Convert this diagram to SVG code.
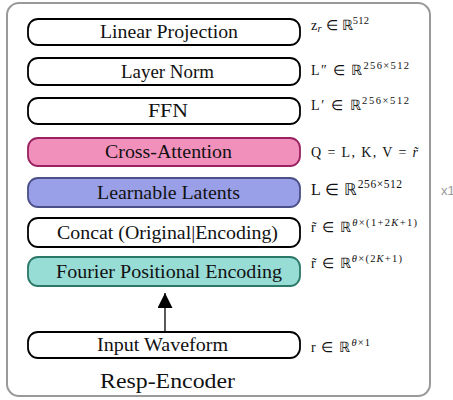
<svg xmlns="http://www.w3.org/2000/svg" width="453" height="400" viewBox="0 0 453 400">
<defs>
<style>
.box{stroke-width:1.8}
.lbl{font-family:"Liberation Serif","Times New Roman",serif;font-size:18px;fill:#111;text-anchor:middle}
.m{font-family:"Liberation Serif","Times New Roman",serif;font-size:14px;fill:#111}
.sup{font-size:10.5px}
</style>
<marker id="ah" markerWidth="16" markerHeight="16" refX="15" refY="7.5" orient="auto" markerUnits="userSpaceOnUse" viewBox="0 0 16 16">
<path d="M0,0 L15,7.5 L0,15 Z" fill="#000"/>
</marker>
</defs>
<rect x="7" y="3" width="423" height="393" rx="12" fill="#fff" stroke="#999" stroke-width="2"/>
<g id="n-linear"><rect class="box" x="28" y="19" width="272" height="26" rx="10" fill="#fff" stroke="#000"/><text class="lbl" x="169" y="38" textLength="138" lengthAdjust="spacingAndGlyphs">Linear Projection</text></g>
<g id="n-layernorm"><rect class="box" x="28" y="58" width="272" height="27" rx="10" fill="#fff" stroke="#000"/><text class="lbl" x="167.5" y="77.5" textLength="93" lengthAdjust="spacingAndGlyphs">Layer Norm</text></g>
<g id="n-ffn"><rect class="box" x="28" y="98" width="272" height="26" rx="10" fill="#fff" stroke="#000"/><text class="lbl" x="168" y="117" textLength="40" lengthAdjust="spacingAndGlyphs">FFN</text></g>
<g id="n-cross"><rect class="box" x="28" y="138" width="272" height="28" rx="10" fill="#f190bb" stroke="#9a2262"/><text class="lbl" x="168.5" y="158" textLength="127" lengthAdjust="spacingAndGlyphs">Cross-Attention</text></g>
<g id="n-latents"><rect class="box" x="28" y="178" width="272" height="29" rx="10" fill="#9aa0e8" stroke="#4b5088"/><text class="lbl" x="168.5" y="198.5" textLength="143" lengthAdjust="spacingAndGlyphs">Learnable Latents</text></g>
<g id="n-concat"><rect class="box" x="28" y="218" width="272" height="29" rx="10" fill="#fff" stroke="#000"/><text class="lbl" x="167.5" y="238.5" textLength="221" lengthAdjust="spacingAndGlyphs">Concat (Original|Encoding)</text></g>
<g id="n-fourier"><rect class="box" x="28" y="257" width="272" height="29" rx="10" fill="#98dcd6" stroke="#2b7868"/><text class="lbl" x="169" y="277.5" textLength="226" lengthAdjust="spacingAndGlyphs">Fourier Positional Encoding</text></g>
<g id="n-input"><rect class="box" x="28" y="332" width="272" height="26" rx="10" fill="#fff" stroke="#000"/><text class="lbl" x="162.5" y="351" textLength="131" lengthAdjust="spacingAndGlyphs">Input Waveform</text></g>
<g id="connectors"><line x1="165" y1="332" x2="165" y2="293" stroke="#000" stroke-width="1.3" marker-end="url(#ah)"/></g>
<g id="annotations">
<text class="m" x="311" y="30" textLength="58" lengthAdjust="spacing">z<tspan class="sup" font-style="italic" dy="2">r</tspan><tspan dy="-2"> ∈ ℝ</tspan><tspan class="sup" dy="-6">512</tspan></text>
<text class="m" x="311" y="75" textLength="98" lengthAdjust="spacing">L″ ∈ ℝ<tspan class="sup" dy="-6">256×512</tspan></text>
<text class="m" x="311" y="110" textLength="98" lengthAdjust="spacing">L′ ∈ ℝ<tspan class="sup" dy="-6">256×512</tspan></text>
<text class="m" x="311" y="157" textLength="107" lengthAdjust="spacing">Q = L,    K, V = <tspan font-style="italic">r̃</tspan></text>
<text class="m" x="311" y="195" style="font-size:16px" textLength="91" lengthAdjust="spacing">L ∈ ℝ<tspan class="sup" dy="-7" style="font-size:11.5px">256×512</tspan></text>
<text class="m" x="311" y="232" textLength="106" lengthAdjust="spacing">r̃ ∈ ℝ<tspan class="sup" dy="-6"><tspan font-style="italic">θ</tspan>×(1+2<tspan font-style="italic">K</tspan>+1)</tspan></text>
<text class="m" x="311" y="268" textLength="91" lengthAdjust="spacing">r̃ ∈ ℝ<tspan class="sup" dy="-6"><tspan font-style="italic">θ</tspan>×(2<tspan font-style="italic">K</tspan>+1)</tspan></text>
<text class="m" x="311" y="352" textLength="59" lengthAdjust="spacing">r ∈ ℝ<tspan class="sup" dy="-6"><tspan font-style="italic">θ</tspan>×1</tspan></text>
<text x="100" y="388" textLength="135" lengthAdjust="spacingAndGlyphs" style="font-family:'Liberation Serif','Times New Roman',serif;font-size:22px;fill:#111">Resp-Encoder</text>
<text x="441" y="195" style="font-family:'Liberation Sans',sans-serif;font-size:13px;fill:#999">x1</text>
</g>
</svg>
